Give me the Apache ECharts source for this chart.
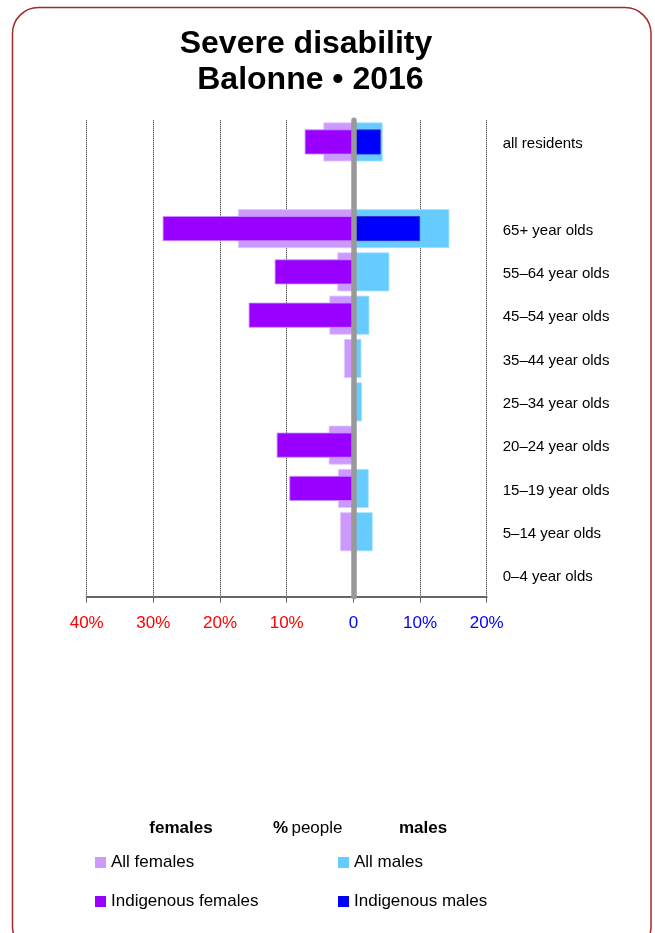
<!DOCTYPE html>
<html>
<head>
<meta charset="utf-8">
<script src="https://cdn.jsdelivr.net/npm/echarts@6/dist/echarts.min.js"></script>
<style>
html,body{margin:0;padding:0;background:#fff;}
#chart{width:655px;height:933px;}
</style>
</head>
<body>
<div id="chart"></div>
<script>
// ---- data ----
var categories = ['all residents', '', '65+ year olds', '55–64 year olds', '45–54 year olds', '35–44 year olds', '25–34 year olds', '20–24 year olds', '15–19 year olds', '5–14 year olds', '0–4 year olds'];
var allFemales = [4.5, null, 17.3, 2.4, 3.6, 1.4, 0.3, 3.7, 2.3, 2.0, 0];
var indigenousFemales = [7.3, null, 28.6, 11.8, 15.7, null, null, 11.5, 9.6, null, null];
var allMales = [4.4, null, 14.4, 5.4, 2.4, 1.2, 1.3, 0, 2.3, 2.9, 0];
var indigenousMales = [4.1, null, 10.0, null, null, null, null, null, null, null, null];
var xTicks = [-40, -30, -20, -10, 0, 10, 20];

function neg(arr) { return arr.map(function (v) { return v == null ? null : -v; }); }

var FONT = '"Liberation Sans", Arial, sans-serif';
var chart = echarts.init(document.getElementById('chart'), null, {renderer: 'canvas'});

var option = {
  animation: false,
  backgroundColor: '#fff',
  textStyle: {fontFamily: FONT},
  grid: {left: 86.7, right: 168.3, top: 120.3, bottom: 336.3, containLabel: false},
  xAxis: {
    type: 'value', min: xTicks[0], max: xTicks[xTicks.length - 1], interval: 10,
    axisLine: {show: true, onZero: false, lineStyle: {color: '#666', width: 2}},
    axisTick: {show: true, length: 6, lineStyle: {color: '#666', width: 1}},
    splitLine: {show: true, lineStyle: {color: '#111', type: 'dotted', width: 1}},
    axisLabel: {
      margin: 18, fontSize: 17, fontFamily: FONT,
      color: function (v) { return Number(v) < 0 ? '#ff0000' : '#0000ff'; },
      formatter: function (v) { return v === 0 ? '0' : Math.abs(v) + '%'; }
    }
  },
  yAxis: [
    {
      type: 'category', data: categories, inverse: true, z: 10,
      axisLine: {show: true, onZero: true, lineStyle: {color: '#999', width: 5.5}},
      axisTick: {show: false}, axisLabel: {show: false}, splitLine: {show: false}
    },
    {
      type: 'category', data: categories, inverse: true, position: 'right',
      axisLine: {show: false, onZero: false}, axisTick: {show: false}, splitLine: {show: false},
      axisLabel: {show: true, margin: 16, align: 'left',
        formatter: function (v) { return v ? '{c|' + v + '}' : ''; },
        rich: {c: {fontSize: 15, color: '#000', fontFamily: FONT, padding: [4, 0, 0, 0]}}}
    }
  ],
  legend: [
    {
      data: ['All females', 'Indigenous females'], orient: 'vertical', left: 95, top: 854, padding: 0,
      icon: 'rect', itemWidth: 11, itemHeight: 11, itemGap: 22, itemTextGap: 6,
      itemStyle: {borderWidth: 0},
      textStyle: {fontSize: 17, color: '#000', fontFamily: FONT}, selectedMode: false
    },
    {
      data: ['All males', 'Indigenous males'], orient: 'vertical', left: 338, top: 854, padding: 0,
      icon: 'rect', itemWidth: 11, itemHeight: 11, itemGap: 22, itemTextGap: 6,
      itemStyle: {borderWidth: 0},
      textStyle: {fontSize: 17, color: '#000', fontFamily: FONT}, selectedMode: false
    }
  ],
  series: [
    {name: 'All females', type: 'bar', yAxisIndex: 0, data: neg(allFemales), barWidth: 39, barGap: '-100%',
      itemStyle: {color: '#cc99ff', borderColor: '#e0c8ff', borderWidth: 0.8}},
    {name: 'All males', type: 'bar', yAxisIndex: 0, data: allMales, barWidth: 39, barGap: '-100%',
      itemStyle: {color: '#66ccff', borderColor: '#a8e2ff', borderWidth: 0.8}},
    {name: 'Indigenous females', type: 'bar', yAxisIndex: 1, data: neg(indigenousFemales), barWidth: 25, barGap: '-100%',
      itemStyle: {color: '#9900ff', borderColor: '#c890ff', borderWidth: 0.8}},
    {name: 'Indigenous males', type: 'bar', yAxisIndex: 1, data: indigenousMales, barWidth: 25, barGap: '-100%',
      itemStyle: {color: '#0000ff', borderColor: '#3030c0', borderWidth: 0.8}}
  ],
  graphic: [
    {type: 'rect', shape: {x: 12.5, y: 7.5, width: 638.5, height: 945, r: 26},
      style: {fill: null, stroke: '#a3292b', lineWidth: 1.5}, silent: true, z: -1},
    {type: 'text', x: 306, y: 26, style: {text: 'Severe disability\n Balonne • 2016', textAlign: 'center',
      font: 'bold 32px ' + FONT, fill: '#000', lineHeight: 36}},
    {type: 'text', x: 181, y: 820, style: {text: 'females', textAlign: 'center', font: 'bold 17px ' + FONT, fill: '#000'}},
    {type: 'text', x: 423, y: 820, style: {text: 'males', textAlign: 'center', font: 'bold 17px ' + FONT, fill: '#000'}},
    {type: 'text', x: 273, y: 820, style: {
      text: '{b|%} {n|people}',
      rich: {b: {font: 'bold 17px ' + FONT, fill: '#000'}, n: {font: '17px ' + FONT, fill: '#000'}}
    }}
  ]
};
chart.setOption(option);
</script>
</body>
</html>
